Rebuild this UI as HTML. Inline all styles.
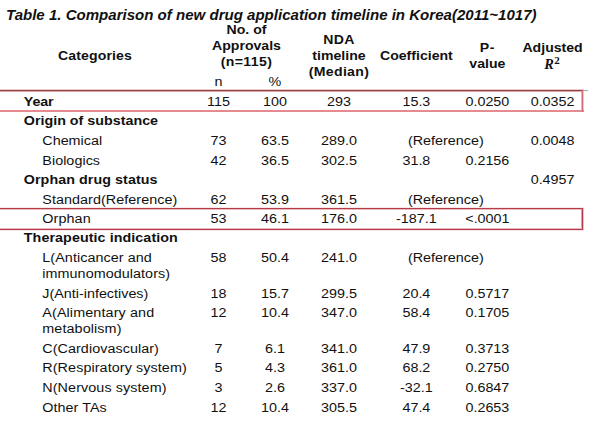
<!DOCTYPE html>
<html><head><meta charset="utf-8"><style>
html,body{margin:0;padding:0;background:#fff;}
body{width:600px;height:422px;position:relative;overflow:hidden;font-family:"Liberation Sans",sans-serif;color:#111;}
.t{position:absolute;white-space:nowrap;line-height:1;}
.ln{position:absolute;}
</style></head><body>
<div class="ln" style="left:0;top:89px;width:584px;height:1px;background:#f0c8c8;"></div>
<div class="ln" style="left:0;top:91px;width:582px;height:1px;background:#e4a4a4;"></div>
<div class="ln" style="left:581px;top:90px;width:1px;height:20px;background:#eab0b6;"></div>
<div class="ln" style="left:583px;top:91px;width:1px;height:21px;background:#f0c4c8;"></div>
<div class="ln" style="left:0;top:90px;width:583px;height:1px;background:#8a4848;"></div>
<div class="ln" style="left:583px;top:90px;width:5px;height:1px;background:#a8a8a8;"></div>
<div class="ln" style="left:0;top:110px;width:584px;height:2px;background:#e58a8e;"></div>
<div class="ln" style="left:582px;top:90px;width:1px;height:22px;background:#d66a76;"></div>
<div class="ln" style="left:0;top:207px;width:584px;height:1px;background:#f8e8e8;"></div>
<div class="ln" style="left:0;top:209px;width:582px;height:1px;background:#eab8be;"></div>
<div class="ln" style="left:0;top:228px;width:582px;height:1px;background:#eab8be;"></div>
<div class="ln" style="left:0;top:230px;width:584px;height:1px;background:#f8e4e6;"></div>
<div class="ln" style="left:581px;top:209px;width:1px;height:19px;background:#dca0a8;"></div>
<div class="ln" style="left:583px;top:208px;width:1px;height:22px;background:#ecc0c4;"></div>
<div class="ln" style="left:0;top:208px;width:583px;height:1px;background:#b43c48;"></div>
<div class="ln" style="left:0;top:229px;width:583px;height:1px;background:#b43c48;"></div>
<div class="ln" style="left:582px;top:208px;width:1px;height:22px;background:#b43c48;"></div>
<div class="t" style="top:7.00px;font-size:15.05px;font-weight:bold;font-style:italic;left:6px;">Table 1. Comparison of new drug application timeline in Korea(2011~1017)</div>
<div class="t" style="top:48.00px;font-size:14.1px;font-weight:bold;left:-105.00px;width:400px;text-align:center;transform:scaleY(0.94);transform-origin:0 12.00px;letter-spacing:0.1px;">Categories</div>
<div class="t" style="top:22.00px;font-size:14.1px;font-weight:bold;left:46.50px;width:400px;text-align:center;transform:scaleY(0.94);transform-origin:0 12.00px;">No. of</div>
<div class="t" style="top:38.00px;font-size:14.1px;font-weight:bold;left:46.50px;width:400px;text-align:center;transform:scaleY(0.94);transform-origin:0 12.00px;">Approvals</div>
<div class="t" style="top:54.00px;font-size:14.1px;font-weight:bold;left:46.50px;width:400px;text-align:center;transform:scaleY(0.94);transform-origin:0 12.00px;letter-spacing:0.35px;">(n=115)</div>
<div class="t" style="top:74.00px;font-size:14.35px;left:18.50px;width:400px;text-align:center;transform:scaleY(0.94);transform-origin:0 12.00px;">n</div>
<div class="t" style="top:74.00px;font-size:14.35px;left:75.00px;width:400px;text-align:center;transform:scaleY(0.94);transform-origin:0 12.00px;">%</div>
<div class="t" style="top:32.00px;font-size:14.1px;font-weight:bold;left:139.00px;width:400px;text-align:center;transform:scaleY(0.94);transform-origin:0 12.00px;letter-spacing:0.4px;">NDA</div>
<div class="t" style="top:48.00px;font-size:14.1px;font-weight:bold;left:139.00px;width:400px;text-align:center;transform:scaleY(0.94);transform-origin:0 12.00px;">timeline</div>
<div class="t" style="top:64.00px;font-size:14.1px;font-weight:bold;left:139.00px;width:400px;text-align:center;transform:scaleY(0.94);transform-origin:0 12.00px;letter-spacing:0.3px;">(Median)</div>
<div class="t" style="top:48.00px;font-size:14.1px;font-weight:bold;left:216.40px;width:400px;text-align:center;transform:scaleY(0.94);transform-origin:0 12.00px;">Coefficient</div>
<div class="t" style="top:40.00px;font-size:14.1px;font-weight:bold;left:287.40px;width:400px;text-align:center;transform:scaleY(0.94);transform-origin:0 12.00px;letter-spacing:0.6px;">P-</div>
<div class="t" style="top:56.00px;font-size:14.1px;font-weight:bold;left:287.40px;width:400px;text-align:center;transform:scaleY(0.94);transform-origin:0 12.00px;">value</div>
<div class="t" style="top:40.00px;font-size:14.1px;font-weight:bold;left:352.60px;width:400px;text-align:center;transform:scaleY(0.94);transform-origin:0 12.00px;">Adjusted</div>
<div class="t" style="top:57.20px;font-size:14.4px;font-weight:bold;font-style:italic;left:544.2px;font-family:'Liberation Serif',serif;">R</div>
<div class="t" style="top:55.49px;font-size:11px;font-weight:bold;left:554.2px;font-family:'Liberation Serif',serif;">2</div>
<div class="t" style="top:94.00px;font-size:14.3px;font-weight:bold;left:23.8px;transform:scaleY(0.94);transform-origin:0 12.00px;letter-spacing:-0.15px;">Year</div>
<div class="t" style="top:94.00px;font-size:14.35px;left:18.50px;width:400px;text-align:center;transform:scaleY(0.94);transform-origin:0 12.00px;">115</div>
<div class="t" style="top:94.00px;font-size:14.35px;left:75.00px;width:400px;text-align:center;transform:scaleY(0.94);transform-origin:0 12.00px;">100</div>
<div class="t" style="top:94.00px;font-size:14.35px;left:139.00px;width:400px;text-align:center;transform:scaleY(0.94);transform-origin:0 12.00px;">293</div>
<div class="t" style="top:94.00px;font-size:14.35px;left:216.40px;width:400px;text-align:center;transform:scaleY(0.94);transform-origin:0 12.00px;">15.3</div>
<div class="t" style="top:94.00px;font-size:14.35px;left:287.40px;width:400px;text-align:center;transform:scaleY(0.94);transform-origin:0 12.00px;">0.0250</div>
<div class="t" style="top:94.00px;font-size:14.35px;left:352.60px;width:400px;text-align:center;transform:scaleY(0.94);transform-origin:0 12.00px;">0.0352</div>
<div class="t" style="top:113.00px;font-size:14.3px;font-weight:bold;left:23.8px;transform:scaleY(0.94);transform-origin:0 12.00px;">Origin of substance</div>
<div class="t" style="top:133.00px;font-size:14.35px;left:42.3px;transform:scaleY(0.94);transform-origin:0 12.00px;">Chemical</div>
<div class="t" style="top:133.00px;font-size:14.35px;left:18.50px;width:400px;text-align:center;transform:scaleY(0.94);transform-origin:0 12.00px;">73</div>
<div class="t" style="top:133.00px;font-size:14.35px;left:75.00px;width:400px;text-align:center;transform:scaleY(0.94);transform-origin:0 12.00px;">63.5</div>
<div class="t" style="top:133.00px;font-size:14.35px;left:139.00px;width:400px;text-align:center;transform:scaleY(0.94);transform-origin:0 12.00px;">289.0</div>
<div class="t" style="top:133.00px;font-size:14.35px;left:352.60px;width:400px;text-align:center;transform:scaleY(0.94);transform-origin:0 12.00px;">0.0048</div>
<div class="t" style="top:133.00px;font-size:14.35px;left:245.80px;width:400px;text-align:center;transform:scaleY(0.94);transform-origin:0 12.00px;">(Reference)</div>
<div class="t" style="top:153.00px;font-size:14.35px;left:42.3px;transform:scaleY(0.94);transform-origin:0 12.00px;letter-spacing:0.04px;">Biologics</div>
<div class="t" style="top:153.00px;font-size:14.35px;left:18.50px;width:400px;text-align:center;transform:scaleY(0.94);transform-origin:0 12.00px;">42</div>
<div class="t" style="top:153.00px;font-size:14.35px;left:75.00px;width:400px;text-align:center;transform:scaleY(0.94);transform-origin:0 12.00px;">36.5</div>
<div class="t" style="top:153.00px;font-size:14.35px;left:139.00px;width:400px;text-align:center;transform:scaleY(0.94);transform-origin:0 12.00px;">302.5</div>
<div class="t" style="top:153.00px;font-size:14.35px;left:216.40px;width:400px;text-align:center;transform:scaleY(0.94);transform-origin:0 12.00px;">31.8</div>
<div class="t" style="top:153.00px;font-size:14.35px;left:287.40px;width:400px;text-align:center;transform:scaleY(0.94);transform-origin:0 12.00px;">0.2156</div>
<div class="t" style="top:172.00px;font-size:14.3px;font-weight:bold;left:23.8px;transform:scaleY(0.94);transform-origin:0 12.00px;letter-spacing:0.06px;">Orphan drug status</div>
<div class="t" style="top:172.00px;font-size:14.35px;left:352.60px;width:400px;text-align:center;transform:scaleY(0.94);transform-origin:0 12.00px;">0.4957</div>
<div class="t" style="top:192.00px;font-size:14.35px;left:42.3px;transform:scaleY(0.94);transform-origin:0 12.00px;letter-spacing:0.06px;">Standard(Reference)</div>
<div class="t" style="top:192.00px;font-size:14.35px;left:18.50px;width:400px;text-align:center;transform:scaleY(0.94);transform-origin:0 12.00px;">62</div>
<div class="t" style="top:192.00px;font-size:14.35px;left:75.00px;width:400px;text-align:center;transform:scaleY(0.94);transform-origin:0 12.00px;">53.9</div>
<div class="t" style="top:192.00px;font-size:14.35px;left:139.00px;width:400px;text-align:center;transform:scaleY(0.94);transform-origin:0 12.00px;">361.5</div>
<div class="t" style="top:192.00px;font-size:14.35px;left:245.80px;width:400px;text-align:center;transform:scaleY(0.94);transform-origin:0 12.00px;">(Reference)</div>
<div class="t" style="top:211.00px;font-size:14.35px;left:42.3px;transform:scaleY(0.94);transform-origin:0 12.00px;letter-spacing:0.1px;">Orphan</div>
<div class="t" style="top:211.00px;font-size:14.35px;left:18.50px;width:400px;text-align:center;transform:scaleY(0.94);transform-origin:0 12.00px;">53</div>
<div class="t" style="top:211.00px;font-size:14.35px;left:75.00px;width:400px;text-align:center;transform:scaleY(0.94);transform-origin:0 12.00px;">46.1</div>
<div class="t" style="top:211.00px;font-size:14.35px;left:139.00px;width:400px;text-align:center;transform:scaleY(0.94);transform-origin:0 12.00px;">176.0</div>
<div class="t" style="top:211.00px;font-size:14.35px;left:216.40px;width:400px;text-align:center;transform:scaleY(0.94);transform-origin:0 12.00px;">-187.1</div>
<div class="t" style="top:211.00px;font-size:14.35px;left:287.40px;width:400px;text-align:center;transform:scaleY(0.94);transform-origin:0 12.00px;">&lt;.0001</div>
<div class="t" style="top:230.00px;font-size:14.3px;font-weight:bold;left:23.8px;transform:scaleY(0.94);transform-origin:0 12.00px;letter-spacing:0.07px;">Therapeutic indication</div>
<div class="t" style="top:250.00px;font-size:14.35px;left:42.3px;transform:scaleY(0.94);transform-origin:0 12.00px;letter-spacing:0.07px;">L(Anticancer and</div>
<div class="t" style="top:250.00px;font-size:14.35px;left:18.50px;width:400px;text-align:center;transform:scaleY(0.94);transform-origin:0 12.00px;">58</div>
<div class="t" style="top:250.00px;font-size:14.35px;left:75.00px;width:400px;text-align:center;transform:scaleY(0.94);transform-origin:0 12.00px;">50.4</div>
<div class="t" style="top:250.00px;font-size:14.35px;left:139.00px;width:400px;text-align:center;transform:scaleY(0.94);transform-origin:0 12.00px;">241.0</div>
<div class="t" style="top:250.00px;font-size:14.35px;left:245.80px;width:400px;text-align:center;transform:scaleY(0.94);transform-origin:0 12.00px;">(Reference)</div>
<div class="t" style="top:266.00px;font-size:14.35px;left:42.3px;transform:scaleY(0.94);transform-origin:0 12.00px;letter-spacing:0.06px;">immunomodulators)</div>
<div class="t" style="top:286.00px;font-size:14.35px;left:42.3px;transform:scaleY(0.94);transform-origin:0 12.00px;">J(Anti-infectives)</div>
<div class="t" style="top:286.00px;font-size:14.35px;left:18.50px;width:400px;text-align:center;transform:scaleY(0.94);transform-origin:0 12.00px;">18</div>
<div class="t" style="top:286.00px;font-size:14.35px;left:75.00px;width:400px;text-align:center;transform:scaleY(0.94);transform-origin:0 12.00px;">15.7</div>
<div class="t" style="top:286.00px;font-size:14.35px;left:139.00px;width:400px;text-align:center;transform:scaleY(0.94);transform-origin:0 12.00px;">299.5</div>
<div class="t" style="top:286.00px;font-size:14.35px;left:216.40px;width:400px;text-align:center;transform:scaleY(0.94);transform-origin:0 12.00px;">20.4</div>
<div class="t" style="top:286.00px;font-size:14.35px;left:287.40px;width:400px;text-align:center;transform:scaleY(0.94);transform-origin:0 12.00px;">0.5717</div>
<div class="t" style="top:305.00px;font-size:14.35px;left:42.3px;transform:scaleY(0.94);transform-origin:0 12.00px;letter-spacing:0.12px;">A(Alimentary and</div>
<div class="t" style="top:305.00px;font-size:14.35px;left:18.50px;width:400px;text-align:center;transform:scaleY(0.94);transform-origin:0 12.00px;">12</div>
<div class="t" style="top:305.00px;font-size:14.35px;left:75.00px;width:400px;text-align:center;transform:scaleY(0.94);transform-origin:0 12.00px;">10.4</div>
<div class="t" style="top:305.00px;font-size:14.35px;left:139.00px;width:400px;text-align:center;transform:scaleY(0.94);transform-origin:0 12.00px;">347.0</div>
<div class="t" style="top:305.00px;font-size:14.35px;left:216.40px;width:400px;text-align:center;transform:scaleY(0.94);transform-origin:0 12.00px;">58.4</div>
<div class="t" style="top:305.00px;font-size:14.35px;left:287.40px;width:400px;text-align:center;transform:scaleY(0.94);transform-origin:0 12.00px;">0.1705</div>
<div class="t" style="top:321.00px;font-size:14.35px;left:42.3px;transform:scaleY(0.94);transform-origin:0 12.00px;letter-spacing:0.1px;">metabolism)</div>
<div class="t" style="top:341.00px;font-size:14.35px;left:42.3px;transform:scaleY(0.94);transform-origin:0 12.00px;letter-spacing:0.06px;">C(Cardiovascular)</div>
<div class="t" style="top:341.00px;font-size:14.35px;left:18.50px;width:400px;text-align:center;transform:scaleY(0.94);transform-origin:0 12.00px;">7</div>
<div class="t" style="top:341.00px;font-size:14.35px;left:75.00px;width:400px;text-align:center;transform:scaleY(0.94);transform-origin:0 12.00px;">6.1</div>
<div class="t" style="top:341.00px;font-size:14.35px;left:139.00px;width:400px;text-align:center;transform:scaleY(0.94);transform-origin:0 12.00px;">341.0</div>
<div class="t" style="top:341.00px;font-size:14.35px;left:216.40px;width:400px;text-align:center;transform:scaleY(0.94);transform-origin:0 12.00px;">47.9</div>
<div class="t" style="top:341.00px;font-size:14.35px;left:287.40px;width:400px;text-align:center;transform:scaleY(0.94);transform-origin:0 12.00px;">0.3713</div>
<div class="t" style="top:360.00px;font-size:14.35px;left:42.3px;transform:scaleY(0.94);transform-origin:0 12.00px;letter-spacing:0.09px;">R(Respiratory system)</div>
<div class="t" style="top:360.00px;font-size:14.35px;left:18.50px;width:400px;text-align:center;transform:scaleY(0.94);transform-origin:0 12.00px;">5</div>
<div class="t" style="top:360.00px;font-size:14.35px;left:75.00px;width:400px;text-align:center;transform:scaleY(0.94);transform-origin:0 12.00px;">4.3</div>
<div class="t" style="top:360.00px;font-size:14.35px;left:139.00px;width:400px;text-align:center;transform:scaleY(0.94);transform-origin:0 12.00px;">361.0</div>
<div class="t" style="top:360.00px;font-size:14.35px;left:216.40px;width:400px;text-align:center;transform:scaleY(0.94);transform-origin:0 12.00px;">68.2</div>
<div class="t" style="top:360.00px;font-size:14.35px;left:287.40px;width:400px;text-align:center;transform:scaleY(0.94);transform-origin:0 12.00px;">0.2750</div>
<div class="t" style="top:380.00px;font-size:14.35px;left:42.3px;transform:scaleY(0.94);transform-origin:0 12.00px;letter-spacing:0.09px;">N(Nervous system)</div>
<div class="t" style="top:380.00px;font-size:14.35px;left:18.50px;width:400px;text-align:center;transform:scaleY(0.94);transform-origin:0 12.00px;">3</div>
<div class="t" style="top:380.00px;font-size:14.35px;left:75.00px;width:400px;text-align:center;transform:scaleY(0.94);transform-origin:0 12.00px;">2.6</div>
<div class="t" style="top:380.00px;font-size:14.35px;left:139.00px;width:400px;text-align:center;transform:scaleY(0.94);transform-origin:0 12.00px;">337.0</div>
<div class="t" style="top:380.00px;font-size:14.35px;left:216.40px;width:400px;text-align:center;transform:scaleY(0.94);transform-origin:0 12.00px;">-32.1</div>
<div class="t" style="top:380.00px;font-size:14.35px;left:287.40px;width:400px;text-align:center;transform:scaleY(0.94);transform-origin:0 12.00px;">0.6847</div>
<div class="t" style="top:400.00px;font-size:14.35px;left:42.3px;transform:scaleY(0.94);transform-origin:0 12.00px;letter-spacing:0.05px;">Other TAs</div>
<div class="t" style="top:400.00px;font-size:14.35px;left:18.50px;width:400px;text-align:center;transform:scaleY(0.94);transform-origin:0 12.00px;">12</div>
<div class="t" style="top:400.00px;font-size:14.35px;left:75.00px;width:400px;text-align:center;transform:scaleY(0.94);transform-origin:0 12.00px;">10.4</div>
<div class="t" style="top:400.00px;font-size:14.35px;left:139.00px;width:400px;text-align:center;transform:scaleY(0.94);transform-origin:0 12.00px;">305.5</div>
<div class="t" style="top:400.00px;font-size:14.35px;left:216.40px;width:400px;text-align:center;transform:scaleY(0.94);transform-origin:0 12.00px;">47.4</div>
<div class="t" style="top:400.00px;font-size:14.35px;left:287.40px;width:400px;text-align:center;transform:scaleY(0.94);transform-origin:0 12.00px;">0.2653</div>
</body></html>
